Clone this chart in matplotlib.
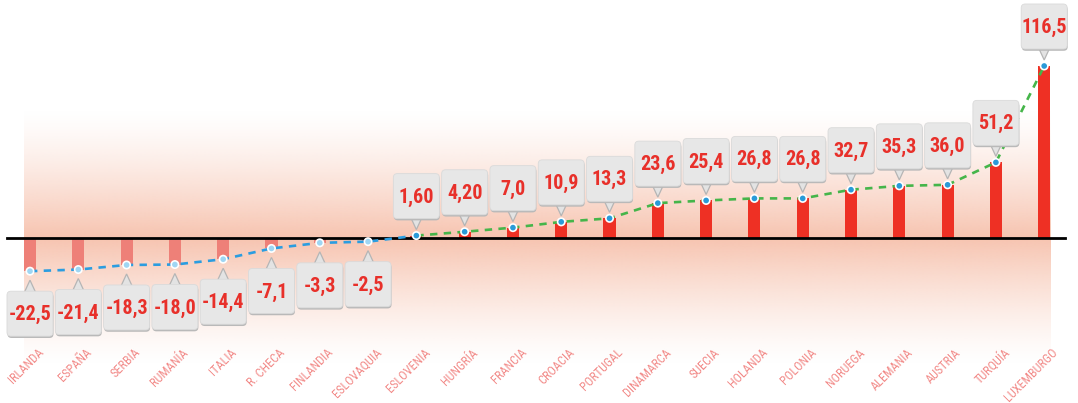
import numpy as np
import matplotlib
matplotlib.use('Agg')
import matplotlib.pyplot as plt
from matplotlib.patches import FancyBboxPatch, Polygon
from matplotlib.transforms import IdentityTransform
from matplotlib import font_manager

categories = ['IRLANDA', 'ESPAÑA', 'SERBIA', 'RUMANÍA', 'ITALIA', 'R. CHECA',
              'FINLANDIA', 'ESLOVAQUIA', 'ESLOVENIA', 'HUNGRÍA', 'FRANCIA',
              'CROACIA', 'PORTUGAL', 'DINAMARCA', 'SUECIA', 'HOLANDA', 'POLONIA',
              'NORUEGA', 'ALEMANIA', 'AUSTRIA', 'TURQUÍA', 'LUXEMBURGO']
values = [-22.5, -21.4, -18.3, -18.0, -14.4, -7.1, -3.3, -2.5, 1.60, 4.20, 7.0,
          10.9, 13.3, 23.6, 25.4, 26.8, 26.8, 32.7, 35.3, 36.0, 51.2, 116.5]
value_labels = ['-22,5', '-21,4', '-18,3', '-18,0', '-14,4', '-7,1', '-3,3', '-2,5',
                '1,60', '4,20', '7,0', '10,9', '13,3', '23,6', '25,4', '26,8',
                '26,8', '32,7', '35,3', '36,0', '51,2', '116,5']

names = {f.name for f in font_manager.fontManager.ttflist}
prefs = ['Roboto Condensed', 'Arial Narrow', 'Liberation Sans Narrow', 'PT Sans Narrow',
         'Archivo Narrow', 'Asap Condensed', 'Roboto']
narrow = next(p for p in prefs if p in names)
fam = [narrow, 'DejaVu Sans']

W, H = 1078, 403
fig = plt.figure(figsize=(W / 100, H / 100), dpi=100)
ax = fig.add_axes([0, 0, 1, 1])
ax.set_xlim(-0.621, 21.70)
ax.set_ylim(-111.8, 161.2)
ax.axis('off')

x = np.arange(len(categories))
v = np.array(values)
bw = 0.25

# background gradient
top, bot = 87.0, -86.0
ys = np.linspace(top, bot, 500)
alpha = np.where(ys >= 0, 1 - ys / top, 1 - ys / bot)
alpha = np.clip(alpha, 0, 1) ** 1.35
img = np.zeros((len(ys), 2, 4))
img[..., 0] = 247 / 255
img[..., 1] = 196 / 255
img[..., 2] = 176 / 255
img[..., 3] = alpha[:, None]
ax.imshow(img, extent=[x[0] - bw / 2, x[-1] + bw / 2, bot, top], aspect='auto',
          interpolation='bilinear', zorder=0)

colors = ['#ee8078' if val < 0 else '#ee3024' for val in v]
ax.bar(x, v, width=bw, color=colors, zorder=2)
ax.axhline(0, xmin=7 / W, xmax=1065 / W, color='black', lw=2.0, zorder=3)

neg_end = 8
ax.plot(x[:neg_end + 1], v[:neg_end + 1], color='#2b9de0', lw=1.9,
        dashes=(2.8, 2.4), zorder=4)
ax.plot(x[neg_end:], v[neg_end:], color='#45b54a', lw=1.9,
        dashes=(2.8, 2.4), zorder=4)
pt_colors = ['#9fd6f3' if val < 0 else '#2a9ad8' for val in v]
ax.scatter(x, v, s=28, c=pt_colors, edgecolors='white', linewidths=1.2, zorder=5)

# callouts
bwid, bht = 46, 45
for xi, val, lab in zip(x, v, value_labels):
    px, py = ax.transData.transform((xi, val))
    if val >= 0:
        tip = py + 6
        base = tip + 11
        y0 = base
        tri = [(px - 6, base + 2), (px + 6, base + 2), (px, tip)]
    else:
        tip = py - 9
        base = tip - 11
        y0 = base - bht
        tri = [(px - 6, base - 2), (px + 6, base - 2), (px, tip)]
    x0 = px - bwid / 2
    ax.add_patch(Polygon(tri, closed=True, facecolor='#e3e3e3', edgecolor='#b5b5b5',
                         lw=0.9, transform=IdentityTransform(), zorder=6))
    ax.add_patch(FancyBboxPatch((x0 + 0.5, y0 - 1.8), bwid, bht,
                                boxstyle='round,pad=0,rounding_size=4',
                                facecolor='#b9b9b9', edgecolor='none',
                                transform=IdentityTransform(), zorder=7))
    ax.add_patch(FancyBboxPatch((x0, y0), bwid, bht,
                                boxstyle='round,pad=0,rounding_size=4',
                                facecolor='#e7e7e7', edgecolor='#dadada', lw=0.6,
                                transform=IdentityTransform(), zorder=8))
    ax.text(px, y0 + bht / 2 - 1, lab, transform=IdentityTransform(), ha='center',
            va='center', fontsize=14.5, fontweight='bold', color='#e8302a',
            family=fam, zorder=9)

# category labels
for xi, lab in zip(x, categories):
    px, _ = ax.transData.transform((xi, 0))
    ax.text(px + 7, H - 346, lab, transform=IdentityTransform(), rotation=45,
            ha='right', va='top', rotation_mode='anchor', fontsize=8.8,
            color='#f28a88', family=fam, zorder=3)

fig.savefig('out.png', dpi=100)
